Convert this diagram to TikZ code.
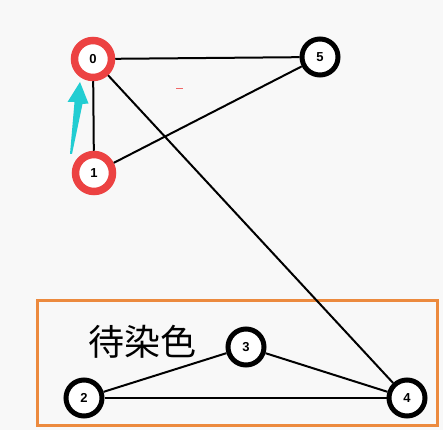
\documentclass[tikz,border=0pt]{standalone}
\usepackage{fontspec}
\setmainfont{Liberation Sans}
\newfontfamily\cjk{Noto Sans CJK SC}
\usepackage{xcolor}
\definecolor{ringred}{HTML}{EC4242}
\definecolor{boxorange}{HTML}{EC8A3E}
\definecolor{arrowcyan}{HTML}{22CDD2}
\definecolor{bggray}{HTML}{F8F8F8}

\begin{document}
\begin{tikzpicture}[x=1pt, y=-1pt,
    main/.style = {draw, circle, fill=white, line width=5pt, minimum size=36pt, inner sep=0pt, font=\bfseries\fontsize{13}{13}\selectfont},
    done/.style = {main, draw=ringred, line width=7.5pt, minimum size=37pt},
    edge/.style = {line width=2pt}]
    \fill[bggray] (0,0) rectangle (443,430);
    \useasboundingbox (0,0) rectangle (443,430);
    % box of the vertices still to colour
    \draw[boxorange, line width=3pt] (37,300) rectangle (437,425);
    \node[font=\cjk\fontsize{36}{36}\selectfont] (label) at (142,342) {待染色};
    \node[done] (0) at (93,59) {0};
    \node[done] (1) at (94,173) {1};
    \node[main] (5) at (320,57) {5};
    \node[main] (3) at (246,347) {3};
    \node[main] (2) at (84,398) {2};
    \node[main] (4) at (407,398) {4};
    \draw[edge] (0) -- (5);
    \draw[edge] (0) -- (1);
    \draw[edge] (0) -- (4);
    \draw[edge] (1) -- (5);
    \draw[edge] (2) -- (3);
    \draw[edge] (3) -- (4);
    \draw[edge] (2) -- (4);
    % cyan arrow
    \fill[arrowcyan] (70,154) -- (74.5,102) -- (67.5,102) -- (80,82) -- (88.5,103.5) -- (82.5,104) -- (72,154) -- cycle;
    \draw[ringred!80, line width=0.8pt] (176,88) -- (183,88);
\end{tikzpicture}
\end{document}
